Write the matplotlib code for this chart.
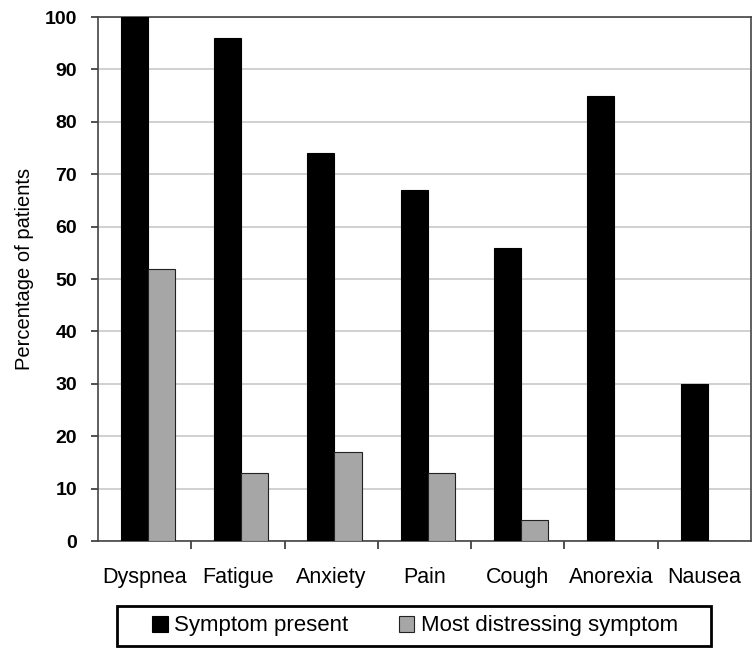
import matplotlib.pyplot as plt
from matplotlib.patches import Rectangle
import numpy as np

# Data
symptoms = ['Dyspnea', 'Fatigue', 'Anxiety', 'Pain', 'Cough', 'Anorexia', 'Nausea']
present = [100, 96, 74, 67, 56, 85, 30]
distressing = [52, 13, 17, 13, 4, 0, 0]

plt.rcParams['font.family'] = ['Liberation Sans', 'DejaVu Sans']

W, H = 752, 649
fig = plt.figure(figsize=(W / 100, H / 100), dpi=100)
ax = fig.add_axes([98 / W, 1 - 541 / H, 653 / W, 524 / H])

x = np.arange(len(symptoms))
w = 0.29
shift = 0.035
ax.bar(x - w / 2 + shift, present, w, color='black', edgecolor='black',
       linewidth=0.8, label='Symptom present', zorder=3)
ax.bar(x + w / 2 + shift, distressing, w, color='#a6a6a6', edgecolor='#222222',
       linewidth=0.8, label='Most distressing symptom', zorder=3)

ax.set_xlim(-0.5, len(symptoms) - 0.5)
ax.set_ylim(0, 100)
ax.set_yticks(np.arange(0, 101, 10))
ax.yaxis.grid(True, color='#c8c8c8', linewidth=1.2, zorder=0)

# category labels centred, ticks between groups
ax.set_xticks(x)
ax.set_xticklabels(symptoms, fontsize=15.5)
ax.tick_params(axis='x', length=0, pad=19)
ax.set_xticks(np.arange(0.5, len(symptoms) - 0.5, 1), minor=True)
ax.tick_params(axis='x', which='minor', length=6, width=1.2, color='#333333')
ax.tick_params(axis='y', length=5, width=1.2, color='#333333', pad=10, labelsize=14)
for lab in ax.get_yticklabels():
    lab.set_fontweight('bold')

ax.set_ylabel('Percentage of patients', fontsize=14.5)
ax.yaxis.set_label_coords(-0.098, 0.52)

for side in ['left', 'bottom', 'top', 'right']:
    ax.spines[side].set_color('#444444')
    ax.spines[side].set_linewidth(1.2)

# legend box drawn separately to get the wide padding
fig.patches.append(Rectangle((117 / W, 1 - 646 / H), 594 / W, 40 / H,
                             transform=fig.transFigure, fill=False,
                             edgecolor='black', linewidth=2))
fig.legend(loc='center', bbox_to_anchor=(415 / W, 1 - 626 / H), ncol=2,
           frameon=False, handlelength=0.7, handleheight=0.7,
           handletextpad=0.3, columnspacing=2.25, borderpad=0.2,
           prop={'size': 16})

fig.savefig('out.png', dpi=100)
